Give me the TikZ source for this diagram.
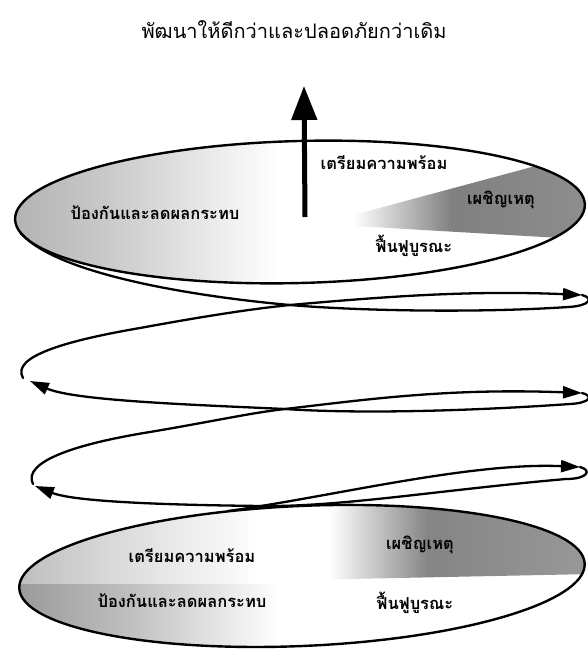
\documentclass[tikz,border=0pt]{standalone}
\usepackage{fontspec}
\newfontfamily\thaifont[Script=Thai]{Loma}
\usetikzlibrary{arrows.meta}

% disc shadings (the path box covers 25bp--75bp)
\pgfdeclarehorizontalshading{topleftshade}{100bp}{color(0bp)=(black!30); color(25bp)=(black!30); color(34bp)=(black!20); color(48bp)=(white); color(100bp)=(white)}
\pgfdeclarehorizontalshading{wedgeshade}{100bp}{color(0bp)=(white); color(31bp)=(white); color(49bp)=(black!50); color(75bp)=(black!44); color(100bp)=(black!44)}
\pgfdeclarehorizontalshading{upleftshade}{100bp}{color(0bp)=(black!26); color(25bp)=(black!26); color(40bp)=(black!15); color(64bp)=(white); color(100bp)=(white)}
\pgfdeclarehorizontalshading{lowleftshade}{100bp}{color(0bp)=(black!40); color(25bp)=(black!40); color(42bp)=(black!26); color(67bp)=(white); color(100bp)=(white)}
\pgfdeclarehorizontalshading{uprightshade}{100bp}{color(0bp)=(white); color(30bp)=(white); color(47bp)=(black!48); color(75bp)=(black!40); color(100bp)=(black!40)}

\begin{document}
\begin{tikzpicture}[
    x=1pt, y=-1pt,
    ttl/.style={font=\thaifont\fontsize{20}{24}\selectfont, inner sep=0pt},
    lbl/.style={font=\thaifont\bfseries\fontsize{16.5}{19}\selectfont, inner sep=0pt},
    rim/.style={draw, line width=2.4pt},
    coil/.style={line width=2.3pt, line cap=round},
    coilarr/.style={coil, -{Triangle[length=19pt, width=12pt]}},
    upshaft/.style={line width=5pt, -{Triangle[length=34pt, width=25pt]}},
]
\useasboundingbox (0,0) rectangle (587,659);

\node[ttl] (title) at (294,30) {พัฒนาให้ดีกว่าและปลอดภัยกว่าเดิม};

\coordinate (ctop) at (300,212);
\coordinate (cbot) at (302,576);

% upper disc
\begin{scope}
  \clip[rotate around={1.5:(ctop)}] (ctop) ellipse [x radius=285pt, y radius=71pt];
  \path[shading=topleftshade] (12,135) rectangle (590,290);
  \path[shading=wedgeshade] (320,224) -- (595,150) -- (595,240) -- cycle;
\end{scope}
\draw[rim, rotate around={1.5:(ctop)}] (ctop) ellipse [x radius=285pt, y radius=71pt];

% lower disc
\begin{scope}
  \clip[rotate around={2.5:(cbot)}] (cbot) ellipse [x radius=283pt, y radius=70pt];
  \path[shading=upleftshade] (15,500) rectangle (330,584);
  \path[shading=lowleftshade] (15,584) rectangle (330,652);
  \path[shading=uprightshade] (300,500) -- (592,500) -- (592,574) -- (300,580) -- cycle;
\end{scope}
\draw[rim, rotate around={2.5:(cbot)}] (cbot) ellipse [x radius=283pt, y radius=70pt];

\node[lbl] (topprep) at (384,163) {เตรียมความพร้อม};
\node[lbl] (toprsp)  at (501,200) {เผชิญเหตุ};
\node[lbl] (topprev) at (155,213) {ป้องกันและลดผลกระทบ};
\node[lbl] (toprec)  at (414,246) {ฟื้นฟูบูรณะ};

\node[lbl] (botprep) at (192,556) {เตรียมความพร้อม};
\node[lbl] (botrsp)  at (420,545) {เผชิญเหตุ};
\node[lbl] (botprev) at (182,601) {ป้องกันและลดผลกระทบ};
\node[lbl] (botrec)  at (415,603) {ฟื้นฟูบูรณะ};

% upward arrow
\coordinate (shaftfoot) at (305,217);
\coordinate (shafttip)  at (304,86);
\draw[upshaft] (shaftfoot) -- (shafttip);

% coil between the discs
\coordinate (sA)    at (228,511);
\coordinate (tipR3) at (580,467);
\coordinate (bndR3) at (566,479);
\coordinate (xC)    at (262,506);
\coordinate (tipL2) at (35,486);
\coordinate (bndL2) at (33,484);
\coordinate (xB)    at (285,409);
\coordinate (tipR2) at (582,393);
\coordinate (bndR2) at (570,404);
\coordinate (tipL1) at (30,381);
\coordinate (bndL1) at (23,378);
\coordinate (xA)    at (290,305);
\coordinate (tipR1) at (582,295);
\coordinate (bndR1) at (568,307);
\coordinate (sZ)    at (20,232);

\draw[coilarr] (sA) .. controls (330,497) and (470,462) .. (tipR3);
\draw[coilarr] (tipR3) .. controls (592,470) and (588,479) .. (bndR3)
    .. controls (440,490) and (340,507) .. (xC)
    .. controls (170,505) and (75,502) .. (tipL2);
\draw[coilarr] (bndL2) .. controls (22,462) and (75,444) .. (150,432)
    .. controls (215,421) and (250,413) .. (xB)
    .. controls (370,399) and (450,388) .. (tipR2);
\draw[coilarr] (tipR2) .. controls (594,396) and (590,403) .. (bndR2)
    .. controls (470,411) and (360,414) .. (xB)
    .. controls (200,405) and (75,401) .. (tipL1);
\draw[coilarr] (bndL1) .. controls (10,356) and (70,340) .. (140,328)
    .. controls (200,317) and (250,309) .. (xA)
    .. controls (380,297) and (470,290) .. (tipR1);
\draw[coil] (tipR1) .. controls (594,298) and (590,306) .. (bndR1)
    .. controls (480,313) and (360,311) .. (xA)
    .. controls (200,297) and (55,275) .. (sZ);

\end{tikzpicture}
\end{document}
